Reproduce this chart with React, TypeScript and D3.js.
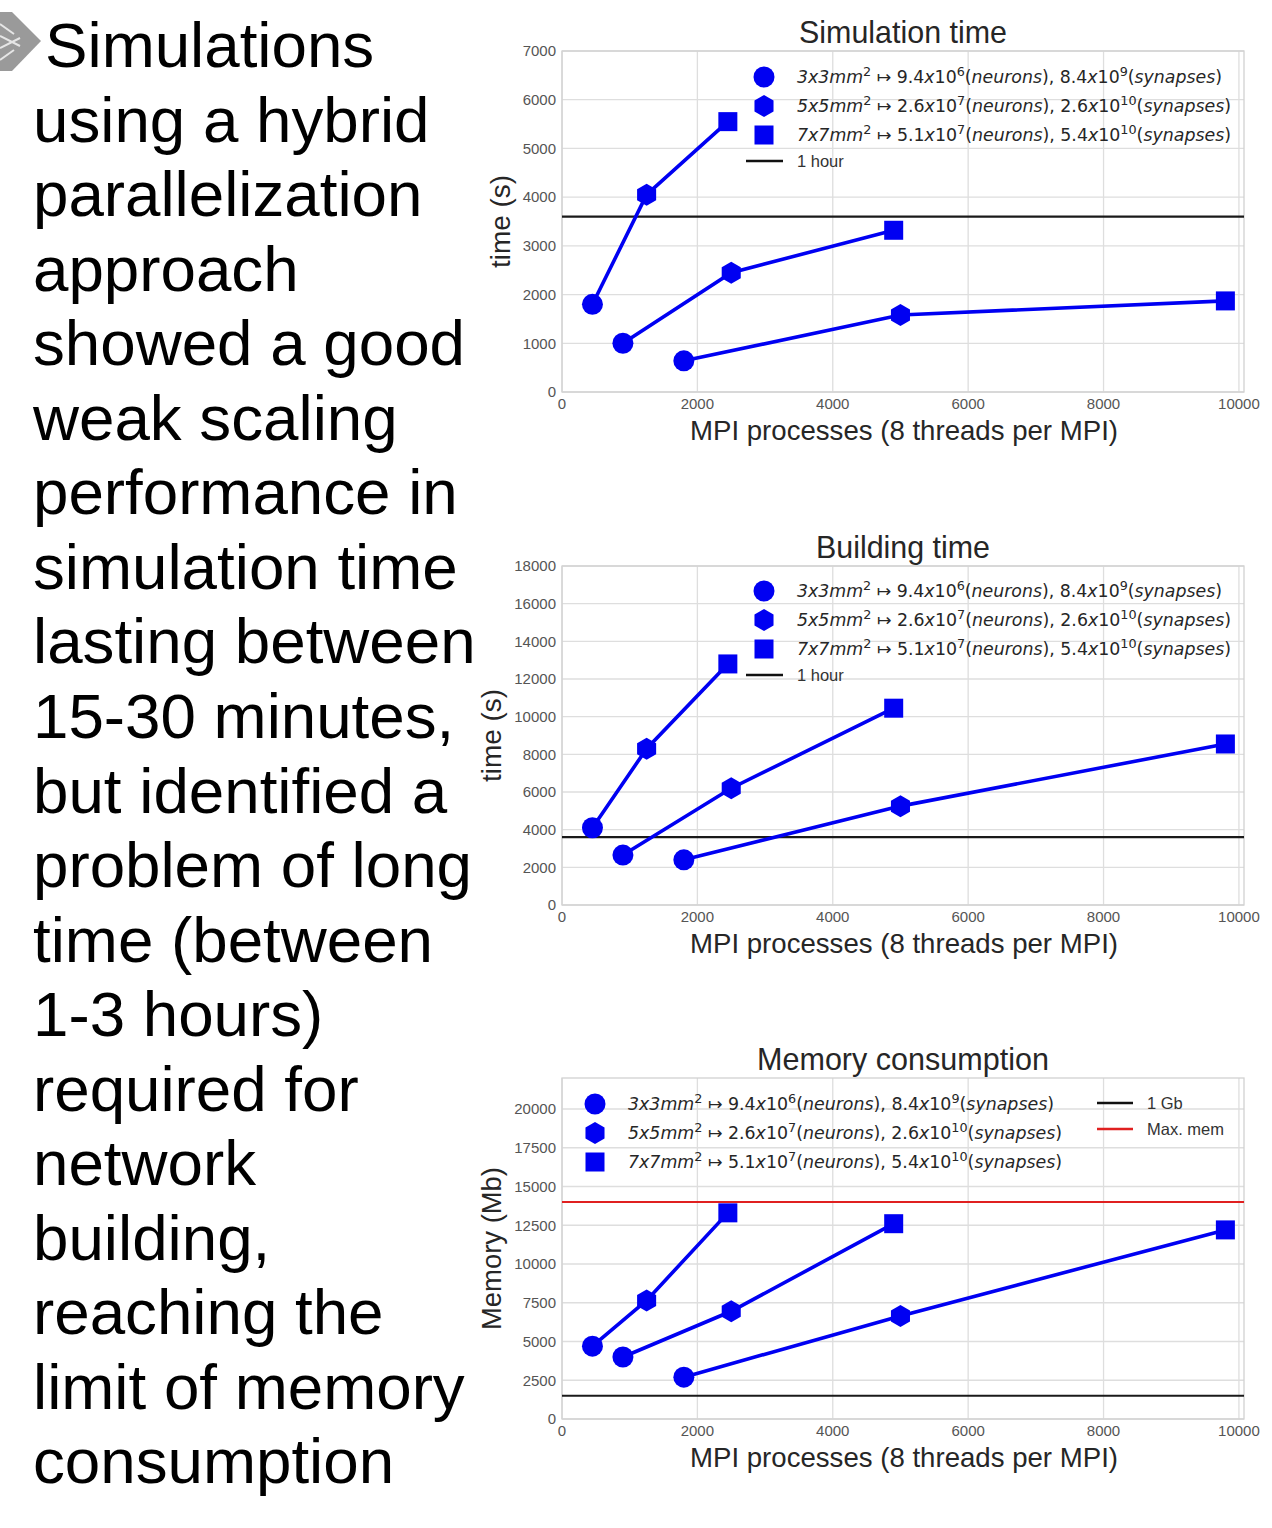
import React from "react";
import * as d3 from "d3";

// ---------- data ----------
const paragraph = [
  "Simulations",
  "using a hybrid",
  "parallelization",
  "approach",
  "showed a good",
  "weak scaling",
  "performance in",
  "simulation time",
  "lasting between",
  "15-30 minutes,",
  "but identified a",
  "problem of long",
  "time (between",
  "1-3 hours)",
  "required for",
  "network",
  "building,",
  "reaching the",
  "limit of memory",
  "consumption",
];

// MPI processes for each weak-scaling line (points: 3x3, 5x5, 7x7 mm²)
const mpiLine1 = [450, 1250, 2450];
const mpiLine2 = [900, 2500, 4900];
const mpiLine3 = [1800, 5000, 9800];

const simTime1 = [1800, 4050, 5550];
const simTime2 = [1000, 2450, 3320];
const simTime3 = [640, 1580, 1870];

const buildTime1 = [4100, 8300, 12800];
const buildTime2 = [2650, 6200, 10450];
const buildTime3 = [2400, 5250, 8550];

const memory1 = [4700, 7650, 13300];
const memory2 = [4000, 6950, 12600];
const memory3 = [2700, 6650, 12200];

const areas = ["3x3", "5x5", "7x7"];
const neurons = [["9.4", "6"], ["2.6", "7"], ["5.1", "7"]];
const synapses = [["8.4", "9"], ["2.6", "10"], ["5.4", "10"]];
const markerKinds = ["circle", "hexagon", "square"];

const xTicks = [0, 2000, 4000, 6000, 8000, 10000];
const simTicks = [0, 1000, 2000, 3000, 4000, 5000, 6000, 7000];
const buildTicks = [0, 2000, 4000, 6000, 8000, 10000, 12000, 14000, 16000, 18000];
const memTicks = [0, 2500, 5000, 7500, 10000, 12500, 15000, 17500, 20000];

const oneHour = 3600;
const oneGb = 1500;
const maxMem = 14000;

// ---------- helpers ----------
const BLUE = "#0000f2";
const xScale = d3.scaleLinear().domain([0, 10075]).range([562, 1244]);

function Marker({ kind, x, y }: { kind: string; x: number; y: number }) {
  if (kind === "circle") return <circle cx={x} cy={y} r={10.5} fill={BLUE} />;
  if (kind === "square") return <rect x={x - 9.5} y={y - 9.5} width={19} height={19} fill={BLUE} />;
  const R = 11;
  const pts = d3.range(6).map((k) => {
    const a = ((-90 + 60 * k) * Math.PI) / 180;
    return [x + R * Math.cos(a), y + R * Math.sin(a)];
  });
  return <polygon points={pts.map((p) => p.join(",")).join(" ")} fill={BLUE} />;
}

function legendParts(i: number) {
  return [
    [areas[i], "i"], ["mm", "i"], ["2", "s"], [" \u21A6 " + neurons[i][0], ""], ["x", "i"], ["10", ""],
    [neurons[i][1], "s"], ["(", ""], ["neurons", "i"], ["), " + synapses[i][0], ""], ["x", "i"], ["10", ""],
    [synapses[i][1], "s"], ["(", ""], ["synapses", "i"], [")", ""],
  ];
}

function LegendText({ i, x, y, len }: { i: number; x: number; y: number; len: number }) {
  const parts = legendParts(i);
  let prevSup = false;
  return (
    <text x={x} y={y + 6} fontFamily="DejaVu Sans" fontSize={17} fill="#262626" textLength={len} lengthAdjust="spacingAndGlyphs">
      {parts.map(([t, k], j) => {
        let dy = 0;
        if (k === "s" && !prevSup) dy = -7;
        if (k !== "s" && prevSup) dy = 7;
        prevSup = k === "s";
        return (
          <tspan key={j} dy={dy} fontStyle={k === "i" ? "italic" : "normal"} fontSize={k === "s" ? 12.5 : 17}>
            {t}
          </tspan>
        );
      })}
    </text>
  );
}

type Series = { xs: number[]; ys: number[] };

function Chart(props: {
  top: number; bottom: number; yMax: number; yTicks: number[]; series: Series[];
  hLines: { v: number; color: string }[]; title: string; titleLen: number; yLabel: string; yLabelX: number; yLabelLen: number;
  legendRows: number[]; legendX: number; legendTextX: number; legendLens: number[]; oneLegend?: { label: string; color: string }[];
  rightLegend?: boolean;
}) {
  const y = d3.scaleLinear().domain([0, props.yMax]).range([props.bottom, props.top]);
  const line = d3.line<[number, number]>().x((d) => xScale(d[0])).y((d) => y(d[1]));
  const x0 = xScale.range()[0], x1 = xScale.range()[1];
  const midX = 903;
  return (
    <g>
      {/* grid */}
      {props.yTicks.map((t) => (
        <line key={"gy" + t} x1={x0} x2={x1} y1={y(t)} y2={y(t)} stroke="#dedede" strokeWidth={1.3} />
      ))}
      {xTicks.map((t) => (
        <line key={"gx" + t} x1={xScale(t)} x2={xScale(t)} y1={props.top} y2={props.bottom} stroke="#dedede" strokeWidth={1.3} />
      ))}
      <rect x={x0} y={props.top} width={x1 - x0} height={props.bottom - props.top} fill="none" stroke="#d2d2d2" strokeWidth={1.3} />
      {/* tick labels */}
      {props.yTicks.map((t) => (
        <text key={"ty" + t} x={556} y={y(t)} dy="0.35em" textAnchor="end" fontFamily="Liberation Sans" fontSize={15} fill="#555">
          {t}
        </text>
      ))}
      {xTicks.map((t) => (
        <text key={"tx" + t} x={xScale(t)} y={props.bottom + 17} textAnchor="middle" fontFamily="Liberation Sans" fontSize={15} fill="#555">
          {t}
        </text>
      ))}
      {/* horizontal reference lines */}
      {props.hLines.map((h, i) => (
        <line key={"h" + i} x1={x0} x2={x1} y1={y(h.v)} y2={y(h.v)} stroke={h.color} strokeWidth={2.2} />
      ))}
      {/* series */}
      {props.series.map((s, i) => (
        <g key={"s" + i}>
          <path d={line(s.xs.map((xv, j) => [xv, s.ys[j]]) as [number, number][]) || ""} fill="none" stroke={BLUE} strokeWidth={3.6} />
          {s.xs.map((xv, j) => (
            <Marker key={j} kind={markerKinds[j]} x={xScale(xv)} y={y(s.ys[j])} />
          ))}
        </g>
      ))}
      {/* legend */}
      {[0, 1, 2].map((i) => (
        <g key={"lg" + i}>
          <Marker kind={markerKinds[i]} x={props.legendX} y={props.legendRows[i]} />
          <LegendText i={i} x={props.legendTextX} y={props.legendRows[i]} len={props.legendLens[i]} />
        </g>
      ))}
      {props.oneLegend && !props.rightLegend && (
        <g>
          <line x1={props.legendX - 18} x2={props.legendX + 19} y1={props.legendRows[3]} y2={props.legendRows[3]} stroke="#111" strokeWidth={2.5} />
          <text x={props.legendTextX} y={props.legendRows[3] + 6} fontFamily="Liberation Sans" fontSize={16.5} fill="#333">
            {props.oneLegend[0].label}
          </text>
        </g>
      )}
      {props.oneLegend && props.rightLegend &&
        props.oneLegend.map((o, i) => (
          <g key={"rl" + i}>
            <line x1={1097} x2={1133} y1={props.top + 25 + i * 26} y2={props.top + 25 + i * 26} stroke={o.color} strokeWidth={2.5} />
            <text x={1147} y={props.top + 31 + i * 26} fontFamily="Liberation Sans" fontSize={16.5} fill="#333">
              {o.label}
            </text>
          </g>
        ))}
      {/* titles */}
      <text x={midX} y={props.top - 8} textAnchor="middle" fontFamily="Liberation Sans" fontSize={32} fill="#262626" textLength={props.titleLen} lengthAdjust="spacingAndGlyphs">
        {props.title}
      </text>
      <text x={midX + 1} y={props.bottom + 48} textAnchor="middle" fontFamily="Liberation Sans" fontSize={28} fill="#262626" textLength={428} lengthAdjust="spacingAndGlyphs">
        MPI processes (8 threads per MPI)
      </text>
      <text
        transform={`translate(${props.yLabelX},${(props.top + props.bottom) / 2}) rotate(-90)`}
        textAnchor="middle" dominantBaseline="central" fontFamily="Liberation Sans" fontSize={27} fill="#262626"
        textLength={props.yLabelLen} lengthAdjust="spacingAndGlyphs"
      >
        {props.yLabel}
      </text>
    </g>
  );
}

export default function App() {
  return (
    <svg width={1272} height={1528} style={{ position: "absolute", left: 0, top: 0, background: "#fff" }}>
      <rect width={1272} height={1528} fill="#fff" />
      {/* logo fragment */}
      <g>
        <polygon points="0,12 12,12 41,41 12,71 0,71" fill="#9a9a9a" />
        {[0, 1, 2, 3].map((k) => (
          <line key={k} x1={0} y1={24 + k * 12} x2={14 + (k < 2 ? k * 6 : (3 - k) * 6)} y2={24 + k * 12 + (k < 2 ? 10 : -10)} stroke="#e6e6e6" strokeWidth={2} />
        ))}
      </g>
      {/* paragraph */}
      {paragraph.map((l, i) => (
        <text key={i} x={i === 0 ? 45 : 33} y={67 + i * 74.55} fontFamily="Liberation Sans, Arial" fontSize={63.7} fill="#000">
          {l}
        </text>
      ))}
      <Chart
        top={51} bottom={392} yMax={7000} yTicks={simTicks}
        series={[{ xs: mpiLine1, ys: simTime1 }, { xs: mpiLine2, ys: simTime2 }, { xs: mpiLine3, ys: simTime3 }]}
        hLines={[{ v: oneHour, color: "#1a1a1a" }]}
        title="Simulation time" titleLen={208} yLabel="time (s)" yLabelX={501} yLabelLen={93}
        legendRows={[77, 106, 135, 161]} legendX={764} legendTextX={797} legendLens={[425, 434, 434]}
        oneLegend={[{ label: "1 hour", color: "#111" }]}
      />
      <Chart
        top={566} bottom={905} yMax={18000} yTicks={buildTicks}
        series={[{ xs: mpiLine1, ys: buildTime1 }, { xs: mpiLine2, ys: buildTime2 }, { xs: mpiLine3, ys: buildTime3 }]}
        hLines={[{ v: oneHour, color: "#1a1a1a" }]}
        title="Building time" titleLen={174} yLabel="time (s)" yLabelX={492} yLabelLen={93}
        legendRows={[591, 620, 649, 675]} legendX={764} legendTextX={797} legendLens={[425, 434, 434]}
        oneLegend={[{ label: "1 hour", color: "#111" }]}
      />
      <Chart
        top={1078} bottom={1419} yMax={22000} yTicks={memTicks}
        series={[{ xs: mpiLine1, ys: memory1 }, { xs: mpiLine2, ys: memory2 }, { xs: mpiLine3, ys: memory3 }]}
        hLines={[{ v: maxMem, color: "#e02020" }, { v: oneGb, color: "#1a1a1a" }]}
        title="Memory consumption" titleLen={292} yLabel="Memory (Mb)" yLabelX={492} yLabelLen={163}
        legendRows={[1104, 1133, 1162]} legendX={595} legendTextX={628} legendLens={[426, 434, 434]}
        oneLegend={[{ label: "1 Gb", color: "#111" }, { label: "Max. mem", color: "#e02020" }]}
        rightLegend
      />
    </svg>
  );
}
